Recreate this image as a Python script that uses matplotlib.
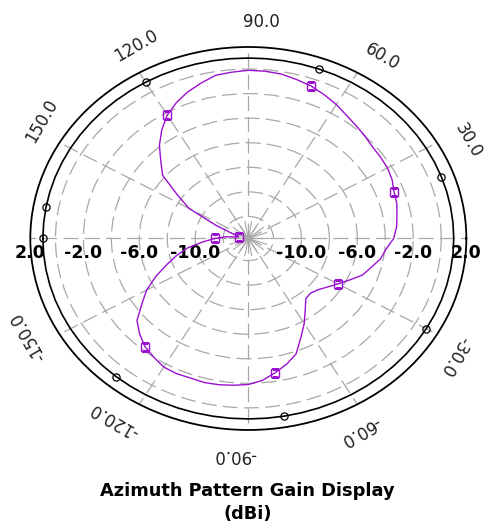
import numpy as np
import matplotlib
matplotlib.use("Agg")
import matplotlib.pyplot as plt

# azimuth samples (deg) and gain (dBi)
angles = [-180, -175, -170, -165, -160, -155, -150, -145, -140, -135,
          -130, -125, -120, -115, -110, -105, -100, -95, -90, -85,
          -80, -75, -70, -65, -60, -55, -50, -45, -40, -35,
          -30, -25, -20, -15, -10, -5, 0, 5, 10, 15,
          20, 25, 30, 35, 40, 45, 50, 55, 60, 65,
          70, 75, 80, 85, 90, 95, 100, 105, 110, 115,
          120, 125, 130, 135, 140, 145, 150, 155, 160, 165,
          170, 175, 180]
gain = [-11.4, -10.5, -9.4, -8.5, -7.6, -6.5, -5.4, -4.5, -3.4, -2.8,
        -2.3, -2.0, -1.7, -1.65, -1.7, -1.65, -1.7, -1.8, -1.9, -2.2,
        -2.7, -3.2, -3.8, -4.9, -5.8, -6.7, -7.4, -7.5, -7.3, -6.9,
        -6.4, -5.8, -5.1, -4.7, -4.2, -3.9, -3.4, -3.15, -3.0, -2.8,
        -2.7, -2.45, -2.3, -2.25, -2.2, -2.0, -1.8, -1.55, -1.2, -0.9,
        -0.6, -0.4, -0.2, -0.12, -0.1, -0.2, -0.3, -0.7, -1.1, -1.6,
        -2.2, -3.0, -3.9, -4.95, -5.8, -7.6, -8.9, -11.2, -12.5, -13.0,
        -13.1, -12.2, -11.4]
ref_level = 0.9

rmin, rmax = -13.8, 1.8
ring_vals = [-12, -10, -8, -6, -4, -2, 0]
rlabel_vals = [-10, -6, -2]
tick_angles = [30, 60, 90, 120, 150, -150, -120, -90, -60, -30]

fig = plt.figure(figsize=(4.85, 5.25), dpi=100)
ax = fig.add_axes([0.0625, 0.181, 0.899, 0.7295], projection="polar")
ax.set_aspect("auto")

th = np.deg2rad(angles)
ax.plot(th, gain, color="#9a10d0", lw=1.0, marker="s", markersize=5.6,
        mfc="none", mec="#9a10d0", mew=1.0, markevery=10, zorder=5)
ax.plot(th, np.full(len(angles), ref_level), color="black", lw=1.2,
        marker="o", markersize=5.2, mfc="none", mec="black", mew=0.9,
        markevery=10, zorder=4)

ax.set_ylim(rmin, rmax)
ax.set_yticks(ring_vals)
ax.set_yticklabels([])
ax.set_xticks(np.deg2rad(np.arange(0, 360, 30)))
ax.set_xticklabels([])
ax.grid(True, color="#a8a8a8", lw=0.9, linestyle=(0, (12, 5)))
ax.spines["polar"].set_color("black")
ax.spines["polar"].set_linewidth(1.3)

# short spokes near the centre
for a in range(0, 360, 20):
    ax.plot([np.deg2rad(a)] * 2, [rmin, -12.4], color="#a8a8a8", lw=0.8)

# radial labels along the horizontal axis
for t in [0, np.pi]:
    for v in rlabel_vals:
        ax.annotate("%.1f" % v, xy=(t, v), xytext=(0, -4), textcoords="offset points",
                    ha="center", va="top", fontsize=12.5, fontweight="bold")
    ax.annotate("2.0", xy=(t, rmax), xytext=(0, -4), textcoords="offset points",
                ha="center", va="top", fontsize=12.5, fontweight="bold")

# angle labels round the rim
r_lab = rmin + 1.13 * (rmax - rmin)
for a in tick_angles:
    ax.text(np.deg2rad(a - 3), r_lab, "%.1f" % a, rotation=a - 90,
            rotation_mode="anchor", ha="center", va="center",
            fontsize=12, color="#222222")

fig.text(0.51, 0.042, "Azimuth Pattern Gain Display\n(dBi)", ha="center",
         va="center", fontsize=12.8, fontweight="bold", linespacing=1.35)

fig.savefig("out.png", dpi=100)
